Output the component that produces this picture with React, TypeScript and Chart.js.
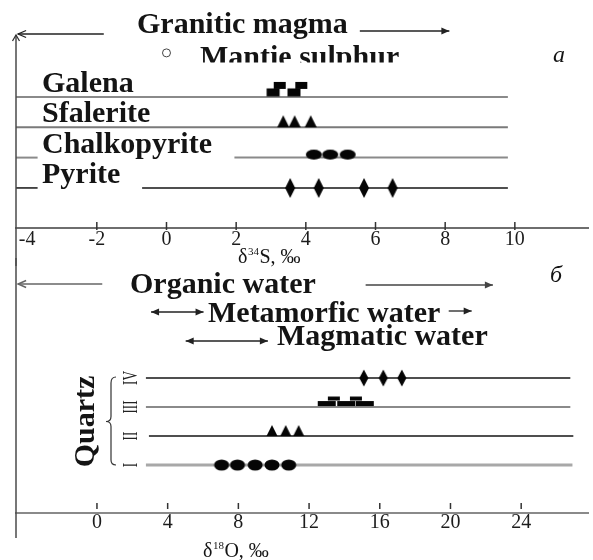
import React, { useEffect, useRef } from "react";
import { Chart, registerables } from "chart.js";

Chart.register(...registerables);

// ---------------- Panel a : δ34S of sulphides ----------------
const MINERALS = ["Galena", "Sfalerite", "Chalkopyrite", "Pyrite"];
const GALENA_S = [3.06, 3.25, 3.66, 3.87];
const SFALERITE_S = [3.35, 3.68, 4.14];
const CHALKOPYRITE_S = [4.23, 4.7, 5.2];
const PYRITE_S = [3.55, 4.37, 5.67, 6.49];
const MANTLE_SULPHUR_S = [0];
const S_TICKS = [-4, -2, 0, 2, 4, 6, 8, 10];
const S_MIN = -4.32;
const S_MAX = 12.1;
// extents of the row lines (δ34S units)
const S_ROW_LINES = [
  [[-4.32, 9.8]],
  [[-4.32, 9.8]],
  [[-4.32, -3.7], [1.95, 9.8]],
  [[-4.32, -3.7], [-0.7, 9.8]],
];
const GRANITIC_MAGMA_ARROWS = [[-1.8, -4.26], [5.55, 8.12]];

// ---------------- Panel б : δ18O of quartz ----------------
const QUARTZ_GENERATIONS = ["IV", "III", "II", "I"];
const QUARTZ_IV_O = [15.1, 16.2, 17.25];
const QUARTZ_III_O = [13.0, 13.4, 14.1, 14.65, 15.15];
const QUARTZ_II_O = [9.9, 10.68, 11.41];
const QUARTZ_I_O = [7.05, 7.95, 8.95, 9.9, 10.85];
const O_TICKS = [0, 4, 8, 12, 16, 20, 24];
const O_MIN = -4.58;
const O_MAX = 27.78;
const O_ROW_LINES = [
  [[2.77, 26.78]],
  [[2.77, 26.78]],
  [[2.94, 26.95]],
  [[2.77, 26.9]],
];
const ORGANIC_WATER_ARROWS = [[0.3, -4.46], [15.2, 22.4]];
const METAMORFIC_WATER_RANGE = [3.06, 6.03];
const METAMORFIC_WATER_ARROW = [19.9, 21.2];
const MAGMATIC_WATER_RANGE = [5.02, 9.67];

const SERIF = '"Liberation Serif", "Times New Roman", serif';
const INK = "#141414";

// ---------- helpers ----------
function marker(w: number, h: number, dy: number, shape: string): HTMLCanvasElement {
  let W = Math.ceil(w) + 2;
  if (W % 2) W++;
  let H = Math.ceil(2 * (Math.abs(dy) + h / 2)) + 2;
  if (H % 2) H++;
  const c = document.createElement("canvas");
  c.width = W;
  c.height = H;
  const ctx = c.getContext("2d")!;
  ctx.fillStyle = "#050505";
  const cx = W / 2;
  const cy = H / 2 + dy;
  ctx.beginPath();
  if (shape === "rect") {
    ctx.rect(cx - w / 2, cy - h / 2, w, h);
  } else if (shape === "tri") {
    ctx.moveTo(cx - w / 2, cy + h / 2);
    ctx.lineTo(cx, cy - h / 2);
    ctx.lineTo(cx + w / 2, cy + h / 2);
    ctx.closePath();
  } else if (shape === "ellipse") {
    ctx.ellipse(cx, cy, w / 2, h / 2, 0, 0, Math.PI * 2);
  } else if (shape === "diamond") {
    ctx.moveTo(cx, cy - h / 2);
    ctx.lineTo(cx + w / 2, cy);
    ctx.lineTo(cx, cy + h / 2);
    ctx.lineTo(cx - w / 2, cy);
    ctx.closePath();
  }
  ctx.fill();
  return c;
}

function seg(ctx: CanvasRenderingContext2D, x1: number, y1: number, x2: number, y2: number, color: string, w: number) {
  ctx.strokeStyle = color;
  ctx.lineWidth = w;
  ctx.beginPath();
  ctx.moveTo(x1, y1);
  ctx.lineTo(x2, y2);
  ctx.stroke();
}

function arrow(
  ctx: CanvasRenderingContext2D,
  x1: number,
  y: number,
  x2: number,
  color: string,
  w: number,
  open: boolean,
  both = false
) {
  seg(ctx, x1, y, x2, y, color, w);
  const head = (xt: number, dir: number) => {
    const L = 8;
    const hw = 3.5;
    ctx.beginPath();
    ctx.moveTo(xt - dir * L, y - hw);
    ctx.lineTo(xt, y);
    ctx.lineTo(xt - dir * L, y + hw);
    if (open) {
      ctx.strokeStyle = color;
      ctx.lineWidth = w;
      ctx.stroke();
    } else {
      ctx.closePath();
      ctx.fillStyle = color;
      ctx.fill();
    }
  };
  head(x2, Math.sign(x2 - x1));
  if (both) head(x1, Math.sign(x1 - x2));
}

function text(ctx: CanvasRenderingContext2D, s: string, x: number, y: number, font: string, color = INK, align: CanvasTextAlign = "left") {
  ctx.font = font;
  ctx.fillStyle = color;
  ctx.textAlign = align;
  ctx.textBaseline = "alphabetic";
  ctx.fillText(s, x, y);
}

function isotopeTitle(ctx: CanvasRenderingContext2D, x: number, y: number, mass: string, el: string) {
  ctx.textAlign = "left";
  ctx.textBaseline = "alphabetic";
  ctx.fillStyle = INK;
  ctx.font = `20px ${SERIF}`;
  ctx.fillText("δ", x, y);
  x += ctx.measureText("δ").width + 0.5;
  ctx.font = `11px ${SERIF}`;
  ctx.fillText(mass, x, y - 8);
  x += ctx.measureText(mass).width + 0.5;
  ctx.font = `20px ${SERIF}`;
  ctx.fillText(el + ", ‰", x, y);
}

const BOLD = `bold 30px ${SERIF}`;

const annotA = {
  id: "annotA",
  afterDraw(chart: any) {
    const { ctx, chartArea: ca, scales } = chart;
    const x = scales.x;
    const y = scales.y;
    ctx.save();
    // vertical axis with arrow head
    seg(ctx, ca.left, ca.top, ca.left, 266, "#4a4a4a", 1.5);
    ctx.beginPath();
    ctx.moveTo(ca.left - 3.5, ca.top + 6);
    ctx.lineTo(ca.left, ca.top);
    ctx.lineTo(ca.left + 3.5, ca.top + 6);
    ctx.strokeStyle = "#333";
    ctx.lineWidth = 1.3;
    ctx.stroke();
    // tick marks
    S_TICKS.forEach((v) => {
      if (v <= -4) return;
      const px = x.getPixelForValue(v);
      seg(ctx, px, ca.bottom - 6, px, ca.bottom + 2, "#333", 1.5);
    });
    // Granitic magma
    const [l, r] = GRANITIC_MAGMA_ARROWS;
    arrow(ctx, x.getPixelForValue(l[0]), 34, x.getPixelForValue(l[1]), "#222", 1.3, true);
    text(ctx, "Granitic magma", 137, 33, BOLD);
    arrow(ctx, x.getPixelForValue(r[0]), 31, x.getPixelForValue(r[1]), "#222", 1.3, false);
    // Mantle sulphur (cut at bottom as in the original)
    ctx.save();
    ctx.beginPath();
    ctx.rect(0, 0, 593, 62.5);
    ctx.clip();
    text(ctx, "Mantie sulphur", 200, 66, BOLD);
    ctx.restore();
    text(ctx, "a", 553, 62, `italic 24px ${SERIF}`);
    // mineral labels
    MINERALS.forEach((m, i) => {
      const py = y.getPixelForValue(MINERALS.length - i);
      text(ctx, m, 42, py - 5, BOLD);
    });
    // axis title
    isotopeTitle(ctx, 238, 263, "34", "S");
    ctx.restore();
  },
};

const annotB = {
  id: "annotB",
  afterDraw(chart: any) {
    const { ctx, chartArea: ca, scales } = chart;
    const x = scales.x;
    const y = scales.y;
    ctx.save();
    seg(ctx, ca.left, 258, ca.left, 538, "#4a4a4a", 1.5);
    // tick marks (floating above axis)
    O_TICKS.forEach((v) => {
      const px = x.getPixelForValue(v);
      seg(ctx, px, ca.bottom - 10, px, ca.bottom - 4, "#333", 1.5);
    });
    // water sources
    const [ol, orr] = ORGANIC_WATER_ARROWS;
    arrow(ctx, x.getPixelForValue(ol[0]), 284, x.getPixelForValue(ol[1]), "#666", 1.5, true);
    text(ctx, "Organic water", 130, 293, BOLD);
    arrow(ctx, x.getPixelForValue(orr[0]), 285, x.getPixelForValue(orr[1]), "#444", 1.3, false);

    arrow(ctx, x.getPixelForValue(METAMORFIC_WATER_RANGE[0]), 312, x.getPixelForValue(METAMORFIC_WATER_RANGE[1]), "#222", 1.3, false, true);
    text(ctx, "Metamorfic water", 208, 322, BOLD);
    arrow(ctx, x.getPixelForValue(METAMORFIC_WATER_ARROW[0]), 311, x.getPixelForValue(METAMORFIC_WATER_ARROW[1]), "#222", 1.3, false);

    arrow(ctx, x.getPixelForValue(MAGMATIC_WATER_RANGE[0]), 341, x.getPixelForValue(MAGMATIC_WATER_RANGE[1]), "#222", 1.3, false, true);
    text(ctx, "Magmatic water", 277, 345, BOLD);

    text(ctx, "б", 550, 282, `italic 24px ${SERIF}`);

    // Quartz label
    const top = y.getPixelForValue(QUARTZ_GENERATIONS.length);
    const bot = y.getPixelForValue(1);
    const mid = (top + bot) / 2;
    ctx.save();
    ctx.translate(94, mid);
    ctx.rotate(-Math.PI / 2);
    text(ctx, "Quartz", 0, 0, BOLD, INK, "center");
    ctx.restore();
    // brace
    ctx.beginPath();
    const bx = 111;
    ctx.moveTo(bx + 5, top - 1);
    ctx.quadraticCurveTo(bx, top - 1, bx, top + 5);
    ctx.lineTo(bx, mid - 5);
    ctx.quadraticCurveTo(bx, mid, bx - 5, mid);
    ctx.quadraticCurveTo(bx, mid, bx, mid + 5);
    ctx.lineTo(bx, bot - 5);
    ctx.quadraticCurveTo(bx, bot, bx + 5, bot);
    ctx.strokeStyle = "#333";
    ctx.lineWidth = 1.2;
    ctx.stroke();
    // roman numerals
    QUARTZ_GENERATIONS.forEach((g, i) => {
      const py = y.getPixelForValue(QUARTZ_GENERATIONS.length - i);
      ctx.save();
      ctx.translate(137, py);
      ctx.rotate(-Math.PI / 2);
      ctx.scale(0.6, 1);
      text(ctx, g, 0, 0, `22px ${SERIF}`, "#222", "center");
      ctx.restore();
    });
    isotopeTitle(ctx, 203, 557, "18", "O");
    ctx.restore();
  },
};

function rowLineDatasets(rows: number[][][], colors: string[], widths: number[]) {
  const out: any[] = [];
  rows.forEach((segs, i) => {
    const yv = rows.length - i;
    segs.forEach(([a, b]) => {
      out.push({
        data: [
          { x: a, y: yv },
          { x: b, y: yv },
        ],
        showLine: true,
        borderColor: colors[i],
        borderWidth: widths[i],
        pointRadius: 0,
        fill: false,
      });
    });
  });
  return out;
}

function pts(vals: number[], yv: number) {
  return vals.map((v) => ({ x: v, y: yv }));
}

function xAxis(min: number, max: number, ticks: number[], pad: number, borderColor: string) {
  return {
    type: "linear",
    position: "bottom",
    min,
    max,
    afterBuildTicks: (s: any) => {
      s.ticks = ticks.map((v) => ({ value: v }));
    },
    grid: { display: false, drawTicks: false },
    border: { display: true, color: borderColor, width: 2 },
    ticks: {
      autoSkip: false,
      maxRotation: 0,
      minRotation: 0,
      padding: pad,
      color: "#1c1c1c",
      font: { family: SERIF, size: 20, lineHeight: 1 },
      callback: (v: any) => String(v),
    },
  };
}

export default function App() {
  const refA = useRef<HTMLCanvasElement>(null);
  const refB = useRef<HTMLCanvasElement>(null);

  useEffect(() => {
    const galLow = marker(13, 8, -4.5, "rect");
    const galUp = marker(12, 7, -11.5, "rect");
    const sfTri = marker(12, 12, -6, "tri");
    const chEll = marker(16, 10, -3, "ellipse");
    const pyDia = marker(10, 20, 0, "diamond");

    const qIV = marker(9, 17, 0, "diamond");
    const qIIILow = marker(18, 5, -3.5, "rect");
    const qIIIUp = marker(12, 4, -8.5, "rect");
    const qII = marker(11, 11, -5.5, "tri");
    const qI = marker(15, 11, 0, "ellipse");

    const n = MINERALS.length;
    const chartA = new Chart(refA.current!, {
      type: "scatter",
      data: {
        datasets: [
          { data: pts(GALENA_S, n), pointStyle: (c: any) => (c.dataIndex % 2 ? galUp : galLow) },
          { data: pts(SFALERITE_S, n - 1), pointStyle: sfTri },
          { data: pts(CHALKOPYRITE_S, n - 2), pointStyle: chEll },
          { data: pts(PYRITE_S, n - 3), pointStyle: pyDia },
          {
            data: pts(MANTLE_SULPHUR_S, 5.45),
            pointStyle: "circle",
            pointRadius: 4,
            backgroundColor: "#fff",
            borderColor: "#444",
            borderWidth: 1,
          },
          ...rowLineDatasets(S_ROW_LINES, ["#8a8a8a", "#7a7a7a", "#8a8a8a", "#141414"], [2, 2, 2, 1.5]),
        ] as any,
      },
      options: {
        animation: false,
        responsive: false,
        events: [],
        layout: { padding: { left: 16, right: 0, top: 35, bottom: 308 } },
        plugins: { legend: { display: false }, tooltip: { enabled: false } },
        scales: {
          x: xAxis(S_MIN, S_MAX, S_TICKS, 2, "#6e6e6e") as any,
          y: { type: "linear", min: -0.32, max: 6.04, display: false },
        },
      },
      plugins: [annotA],
    });

    const m = QUARTZ_GENERATIONS.length;
    const chartB = new Chart(refB.current!, {
      type: "scatter",
      data: {
        datasets: [
          { data: pts(QUARTZ_IV_O, m), pointStyle: qIV },
          { data: pts(QUARTZ_III_O, m - 1), pointStyle: (c: any) => (c.dataIndex % 2 ? qIIIUp : qIIILow) },
          { data: pts(QUARTZ_II_O, m - 2), pointStyle: qII },
          { data: pts(QUARTZ_I_O, m - 3), pointStyle: qI },
          ...rowLineDatasets(O_ROW_LINES, ["#141414", "#8a8a8a", "#141414", "#a8a8a8"], [1.5, 2, 1.5, 3]),
        ] as any,
      },
      options: {
        animation: false,
        responsive: false,
        events: [],
        layout: { padding: { left: 16, right: 0, top: 262, bottom: 27 } },
        plugins: { legend: { display: false }, tooltip: { enabled: false } },
        scales: {
          x: xAxis(O_MIN, O_MAX, O_TICKS, 0, "#8a8a8a") as any,
          y: { type: "linear", min: -0.655, max: 8.0, display: false },
        },
      },
      plugins: [annotB],
    });

    return () => {
      chartA.destroy();
      chartB.destroy();
    };
  }, []);

  const cs: React.CSSProperties = { position: "absolute", left: 0, top: 0, width: 593, height: 560 };
  return (
    <div style={{ position: "fixed", left: 0, top: 0, width: 593, height: 560, background: "#fff", overflow: "hidden" }}>
      <canvas ref={refA} width={593} height={560} style={cs} />
      <canvas ref={refB} width={593} height={560} style={cs} />
    </div>
  );
}
